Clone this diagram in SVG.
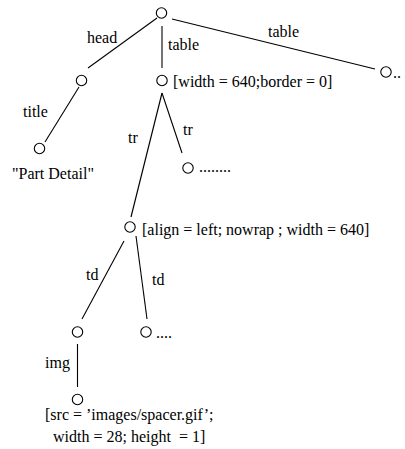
<svg xmlns="http://www.w3.org/2000/svg" width="405" height="449" viewBox="0 0 405 449">
<style>
.n{fill:#fff;stroke:#000;stroke-width:1.1}
.e{stroke:#000;stroke-width:1.1;fill:none}
.t{font-family:'Liberation Serif',serif;font-size:16px;fill:#000}
</style>
<rect width="405" height="449" fill="#fff"/>
<g id="connectors">
<line class="e" x1="157" y1="18" x2="88" y2="68"/>
<line class="e" x1="162" y1="26" x2="162" y2="68"/>
<line class="e" x1="172" y1="19" x2="375" y2="69"/>
<line class="e" x1="79" y1="87" x2="45" y2="142"/>
<line class="e" x1="162" y1="93" x2="131" y2="217"/>
<line class="e" x1="162" y1="93" x2="182" y2="153"/>
<line class="e" x1="124" y1="241" x2="82" y2="319"/>
<line class="e" x1="136" y1="236" x2="147" y2="319"/>
<line class="e" x1="77.5" y1="344" x2="77.5" y2="387"/>
<text class="t" x="87" y="43">head</text>
<text class="t" x="168" y="50">table</text>
<text class="t" x="268" y="37">table</text>
<text class="t" x="23" y="117">title</text>
<text class="t" x="128" y="143">tr</text>
<text class="t" x="183" y="135">tr</text>
<text class="t" x="86" y="280">td</text>
<text class="t" x="152" y="285">td</text>
<text class="t" x="45" y="368">img</text>
</g>
<g id="root"><circle class="n" cx="161.5" cy="13" r="5.2"/></g>
<g id="head"><circle class="n" cx="81.5" cy="80.5" r="5.2"/></g>
<g id="table1"><circle class="n" cx="162" cy="80.5" r="5.2"/><text class="t" x="173" y="87">[width = 640;border = 0]</text></g>
<g id="table2"><circle class="n" cx="386" cy="72" r="5.2"/><text class="t" x="393" y="78">..</text></g>
<g id="title"><circle class="n" cx="39.5" cy="148.5" r="5.2"/><text class="t" x="12" y="179">"Part Detail"</text></g>
<g id="tr2"><circle class="n" cx="188" cy="168" r="5.2"/><text class="t" x="199" y="172">........</text></g>
<g id="tr1"><circle class="n" cx="130" cy="227" r="5.2"/><text class="t" x="142" y="235">[align = left; nowrap ; width = 640]</text></g>
<g id="td1"><circle class="n" cx="77.5" cy="332" r="5.2"/></g>
<g id="td2"><circle class="n" cx="146" cy="332" r="5.2"/><text class="t" x="156" y="338">....</text></g>
<g id="img"><circle class="n" cx="77.5" cy="399.5" r="5.2"/><text class="t" x="45" y="420">[src = ’images/spacer.gif’;</text><text class="t" x="53" y="442" xml:space="preserve">width = 28; height  = 1]</text></g>
</svg>
